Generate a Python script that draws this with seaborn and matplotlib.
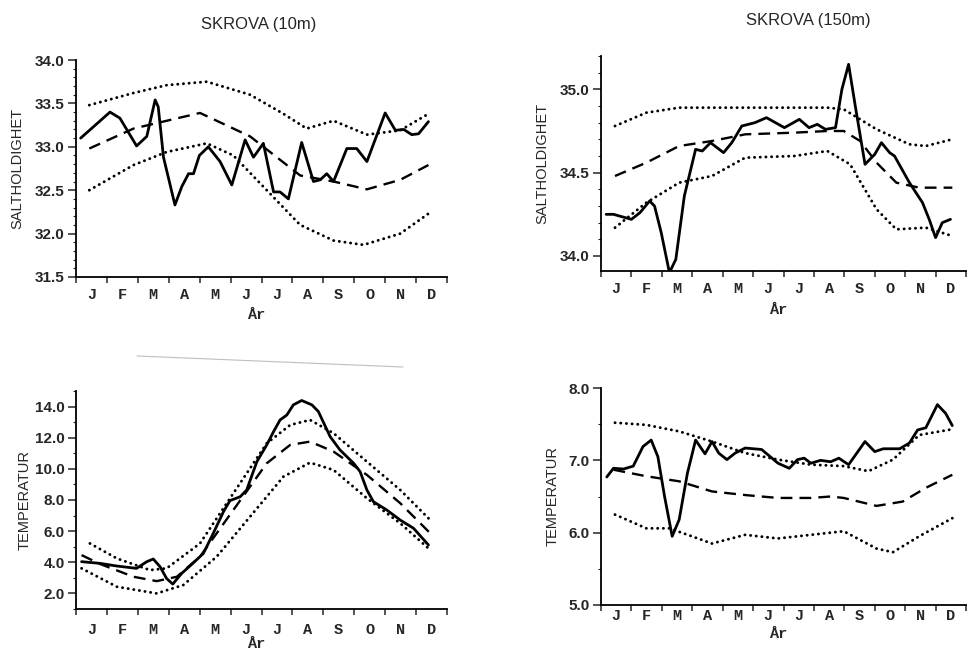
import numpy as np
import pandas as pd
import matplotlib.pyplot as plt
from matplotlib.ticker import MultipleLocator
import seaborn as sns

sns.set_style("ticks")
plt.rcParams['font.family'] = ['Liberation Sans', 'DejaVu Sans']

months = ['J', 'F', 'M', 'A', 'M', 'J', 'J', 'A', 'S', 'O', 'N', 'D']

# ---- SKROVA 10m, salinity ----
sal10_obs_x = [0.15, 1.1, 1.42, 1.96, 2.29, 2.56, 2.66, 2.83, 3.2, 3.42, 3.64, 3.8, 3.99, 4.28, 4.66,
               5.04, 5.47, 5.74, 6.06, 6.39, 6.6, 6.87, 7.3, 7.68, 7.9, 8.11, 8.33, 8.76, 9.08, 9.41,
               10.0, 10.33, 10.6, 10.86, 11.08, 11.4]
sal10_obs_y = [33.10, 33.40, 33.33, 33.01, 33.12, 33.54, 33.46, 32.88, 32.33, 32.54, 32.69, 32.69, 32.90,
               33.00, 32.83, 32.56, 33.08, 32.88, 33.04, 32.48, 32.48, 32.40, 33.05, 32.60, 32.62, 32.69,
               32.60, 32.98, 32.98, 32.83, 33.39, 33.19, 33.20, 33.14, 33.15, 33.29]
sal10_mean_x = [0.43, 1.86, 4.01, 5.63, 7.25, 8.33, 9.41, 10.49, 11.4]
sal10_mean_y = [32.98, 33.21, 33.39, 33.12, 32.67, 32.60, 32.51, 32.62, 32.79]
sal10_hi_x = [0.43, 1.86, 2.93, 4.23, 5.63, 6.71, 7.46, 8.33, 9.41, 10.49, 11.4]
sal10_hi_y = [33.48, 33.62, 33.71, 33.75, 33.60, 33.38, 33.21, 33.30, 33.14, 33.19, 33.38]
sal10_lo_x = [0.43, 1.86, 2.93, 4.23, 5.09, 6.17, 7.25, 8.33, 9.30, 10.49, 11.4]
sal10_lo_y = [32.50, 32.79, 32.94, 33.04, 32.90, 32.50, 32.10, 31.92, 31.87, 32.00, 32.23]

# ---- SKROVA 150m, salinity ----
sal150_obs_x = [0.17, 0.41, 1.0, 1.28, 1.6, 1.76, 1.98, 2.25, 2.46, 2.74, 3.11, 3.33, 3.6, 4.03, 4.3,
                4.63, 5.06, 5.44, 6.03, 6.52, 6.84, 7.11, 7.38, 7.71, 7.92, 8.14, 8.36, 8.68, 9.0, 9.22,
                9.49, 9.65, 10.14, 10.57, 10.79, 11.0, 11.22, 11.49]
sal150_obs_y = [34.25, 34.25, 34.22, 34.26, 34.33, 34.30, 34.14, 33.90, 33.98, 34.36, 34.64, 34.63, 34.68,
                34.62, 34.68, 34.78, 34.80, 34.83, 34.77, 34.82, 34.77, 34.79, 34.76, 34.77, 35.00, 35.15,
                34.90, 34.55, 34.61, 34.68, 34.62, 34.60, 34.44, 34.32, 34.22, 34.11, 34.20, 34.22]
sal150_mean_x = [0.46, 1.49, 2.57, 3.65, 4.74, 6.36, 7.44, 7.98, 8.52, 9.06, 9.71, 10.46, 11.55]
sal150_mean_y = [34.48, 34.56, 34.66, 34.69, 34.73, 34.74, 34.75, 34.75, 34.69, 34.56, 34.44, 34.41, 34.41]
sal150_hi_x = [0.46, 1.49, 2.57, 4.74, 7.44, 7.98, 9.06, 10.14, 10.68, 11.55]
sal150_hi_y = [34.78, 34.86, 34.89, 34.89, 34.89, 34.88, 34.76, 34.67, 34.66, 34.70]
sal150_lo_x = [0.46, 1.49, 2.57, 3.65, 4.74, 6.36, 7.44, 8.19, 9.06, 9.71, 10.68, 11.55]
sal150_lo_y = [34.17, 34.32, 34.44, 34.48, 34.59, 34.60, 34.63, 34.55, 34.28, 34.16, 34.17, 34.12]

# ---- SKROVA 10m, temperature ----
tmp10_obs_x = [0.18, 0.78, 1.32, 1.96, 2.29, 2.5, 2.72, 2.93, 3.13, 3.42, 3.8, 4.12, 4.44, 4.77, 4.98,
               5.31, 5.52, 5.85, 6.17, 6.39, 6.6, 6.82, 7.03, 7.3, 7.63, 7.84, 8.22, 8.54, 8.98, 9.19,
               9.41, 9.62, 10.05, 10.49, 10.92, 11.4]
tmp10_obs_y = [4.04, 3.93, 3.76, 3.61, 4.04, 4.21, 3.71, 2.96, 2.60, 3.29, 3.97, 4.57, 5.86, 7.25, 7.96,
               8.21, 8.64, 10.46, 11.54, 12.39, 13.14, 13.46, 14.11, 14.39, 14.11, 13.68, 12.07, 11.21,
               10.36, 9.82, 8.64, 7.89, 7.36, 6.71, 6.18, 5.11]
tmp10_mean_x = [0.18, 0.78, 1.86, 2.61, 3.26, 4.01, 5.09, 6.17, 6.93, 7.57, 8.33, 9.41, 10.49, 11.46]
tmp10_mean_y = [4.46, 3.89, 3.07, 2.79, 3.07, 4.36, 7.36, 10.36, 11.54, 11.75, 11.11, 9.61, 7.79, 5.86]
tmp10_hi_x = [0.45, 1.32, 2.39, 2.93, 4.01, 5.09, 6.17, 6.93, 7.57, 8.33, 9.41, 10.49, 11.46]
tmp10_hi_y = [5.21, 4.25, 3.50, 3.61, 5.21, 8.43, 11.64, 12.82, 13.14, 12.29, 10.46, 8.64, 6.71]
tmp10_lo_x = [0.18, 1.32, 2.61, 3.47, 4.55, 5.63, 6.71, 7.57, 8.33, 9.41, 10.49, 11.46]
tmp10_lo_y = [3.61, 2.43, 2.00, 2.54, 4.36, 6.93, 9.50, 10.40, 9.93, 8.11, 6.50, 4.79]

# ---- SKROVA 150m, temperature ----
tmp150_obs_x = [0.19, 0.41, 0.74, 1.06, 1.38, 1.65, 1.87, 2.09, 2.34, 2.57, 2.84, 3.11, 3.42, 3.65, 3.87,
                4.14, 4.41, 4.74, 5.28, 5.82, 6.19, 6.46, 6.68, 6.9, 7.22, 7.55, 7.82, 8.14, 8.68, 9.0,
                9.28, 9.82, 10.14, 10.41, 10.68, 11.06, 11.33, 11.55]
tmp150_obs_y = [6.77, 6.89, 6.88, 6.92, 7.19, 7.28, 7.05, 6.50, 5.95, 6.18, 6.82, 7.28, 7.09, 7.26, 7.10,
                7.01, 7.10, 7.17, 7.15, 6.96, 6.89, 7.01, 7.03, 6.96, 7.00, 6.98, 7.03, 6.94, 7.26, 7.12,
                7.16, 7.16, 7.24, 7.42, 7.45, 7.77, 7.65, 7.48]
tmp150_mean_x = [0.41, 1.49, 2.57, 3.65, 4.74, 5.82, 6.9, 7.55, 7.98, 9.06, 9.92, 10.68, 11.55]
tmp150_mean_y = [6.87, 6.78, 6.71, 6.57, 6.52, 6.48, 6.48, 6.50, 6.48, 6.37, 6.43, 6.62, 6.80]
tmp150_hi_x = [0.46, 1.49, 2.57, 3.65, 4.74, 5.82, 6.9, 7.98, 8.79, 9.6, 10.46, 11.55]
tmp150_hi_y = [7.52, 7.49, 7.40, 7.26, 7.10, 7.01, 6.94, 6.92, 6.85, 7.01, 7.35, 7.43]
tmp150_lo_x = [0.46, 1.49, 2.25, 3.65, 4.74, 5.82, 6.9, 7.98, 9.06, 9.6, 10.46, 11.55]
tmp150_lo_y = [6.25, 6.06, 6.06, 5.85, 5.97, 5.92, 5.97, 6.02, 5.78, 5.73, 5.95, 6.20]

W, H = 967, 651
fig = plt.figure(figsize=(W / 100, H / 100), dpi=100)


def px_axes(l, t, r, b):
    return fig.add_axes([l / W, 1 - b / H, (r - l) / W, (b - t) / H])


def draw(ax, series, ylim, yticks, minor, ylabel, ylab_x, xlab_y, mpad):
    obs, mean, hi, lo = series
    sns.lineplot(x=obs[0], y=obs[1], ax=ax, color='black', lw=2.0, estimator=None, sort=False)
    sns.lineplot(x=mean[0], y=mean[1], ax=ax, color='black', lw=1.7, estimator=None, sort=False,
                 linestyle=(0, (5, 3)))
    for s in (hi, lo):
        sns.lineplot(x=s[0], y=s[1], ax=ax, color='black', lw=2.1, estimator=None, sort=False,
                     linestyle=(0, (0.05, 1.9)), dash_capstyle='round')
    ax.set_xlim(0, 12)
    ax.set_ylim(*ylim)
    sns.despine(ax=ax)
    for sp in ax.spines.values():
        sp.set_linewidth(1.3)
        sp.set_color('black')
    ax.set_xticks(range(13))
    ax.set_xticklabels([])
    ax.set_xticks(np.arange(12) + 0.5, minor=True)
    ax.set_xticklabels(months, minor=True, family='Liberation Mono', weight='bold', fontsize=11)
    ax.tick_params(axis='x', which='major', length=4, width=1.1, direction='out')
    ax.tick_params(axis='x', which='minor', length=0, pad=mpad)
    ax.set_yticks(yticks)
    ax.set_yticklabels([f"{v:.1f}" for v in yticks], weight='bold', fontsize=11)
    ax.yaxis.set_minor_locator(MultipleLocator(minor))
    ax.tick_params(axis='y', which='major', length=6, width=1.1, pad=2)
    ax.tick_params(axis='y', which='minor', length=2, width=0.8)
    ax.set_xlabel('')
    ax.set_ylabel('')
    bb = ax.get_position()
    fig.text(ylab_x / W, (bb.y0 + bb.y1) / 2, ylabel, rotation=90, ha='center', va='center', fontsize=10.5)
    fig.text((bb.x0 + bb.x1) / 2 - 0.005, 1 - xlab_y / H, 'År', ha='center', va='center',
             family='Liberation Mono', weight='bold', fontsize=11)


ax1 = px_axes(76, 60, 447, 277)
draw(ax1, ((sal10_obs_x, sal10_obs_y), (sal10_mean_x, sal10_mean_y), (sal10_hi_x, sal10_hi_y),
           (sal10_lo_x, sal10_lo_y)), (31.5, 34.0), [31.5, 32.0, 32.5, 33.0, 33.5, 34.0], 0.1,
     'SALTHOLDIGHET', 17, 315, 8)

ax2 = px_axes(601, 56, 966, 271)
draw(ax2, ((sal150_obs_x, sal150_obs_y), (sal150_mean_x, sal150_mean_y), (sal150_hi_x, sal150_hi_y),
           (sal150_lo_x, sal150_lo_y)), (33.91, 35.2), [34.0, 34.5, 35.0], 0.1,
     'SALTHOLDIGHET', 542, 310, 8)

ax3 = px_axes(76, 391, 447, 609)
draw(ax3, ((tmp10_obs_x, tmp10_obs_y), (tmp10_mean_x, tmp10_mean_y), (tmp10_hi_x, tmp10_hi_y),
           (tmp10_lo_x, tmp10_lo_y)), (1.0, 15.0), [2.0, 4.0, 6.0, 8.0, 10.0, 12.0, 14.0], 1.0,
     'TEMPERATUR', 25, 644, 10)

ax4 = px_axes(601, 388, 966, 605)
draw(ax4, ((tmp150_obs_x, tmp150_obs_y), (tmp150_mean_x, tmp150_mean_y), (tmp150_hi_x, tmp150_hi_y),
           (tmp150_lo_x, tmp150_lo_y)), (5.0, 8.0), [5.0, 6.0, 7.0, 8.0], 0.5,
     'TEMPERATUR', 553, 634, 3)

fig.text(259 / W, 1 - 24 / H, 'SKROVA (10m)', ha='center', va='center', fontsize=12)
fig.text(808 / W, 1 - 20 / H, 'SKROVA (150m)', ha='center', va='center', fontsize=12)

# faint scan stroke between the left panels
fig.add_artist(plt.Line2D([137 / W, 403 / W], [1 - 356 / H, 1 - 367 / H], color='0.75', lw=0.8))

fig.savefig('out.png', dpi=100)
